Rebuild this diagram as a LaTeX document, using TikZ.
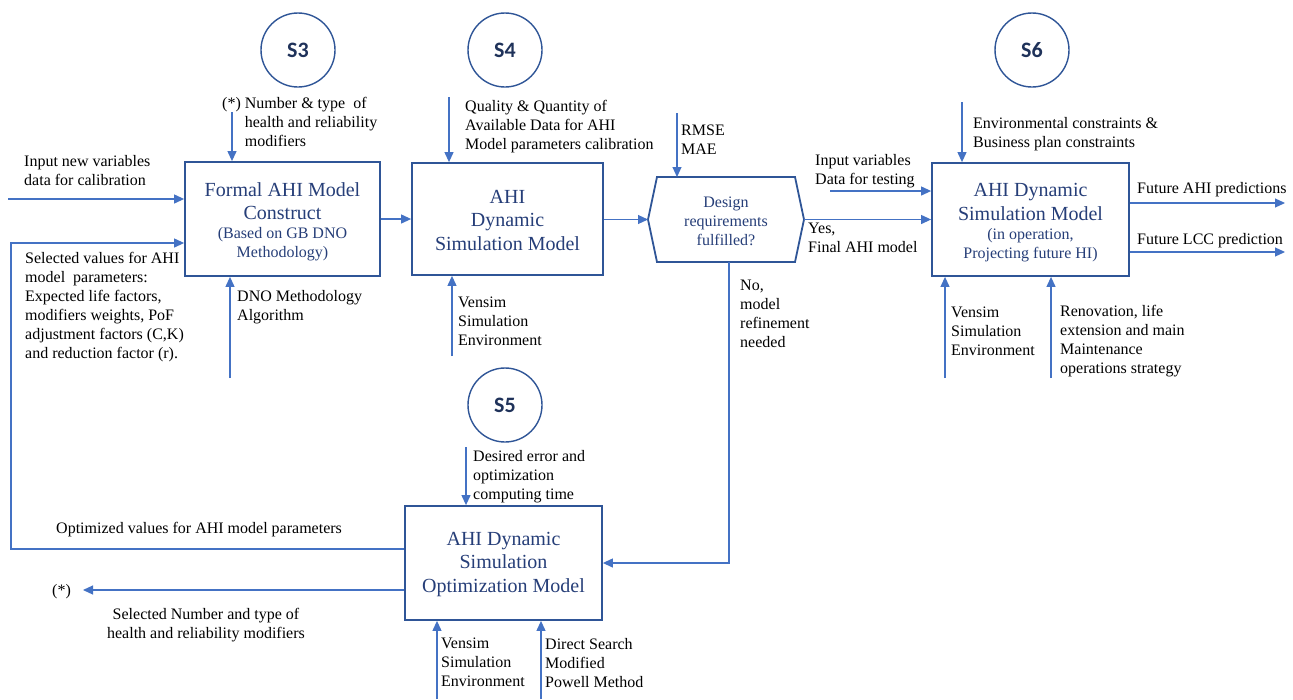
\documentclass[tikz,border=0pt]{standalone}
\usepackage{fontspec}
\setmainfont{Liberation Serif}
\newfontfamily\slabel{Carlito}
\usetikzlibrary{arrows.meta,calc}
\definecolor{boxblue}{RGB}{47,85,151}
\definecolor{arrblue}{RGB}{68,114,196}
\definecolor{titleblue}{RGB}{38,62,120}
\definecolor{sblue}{RGB}{31,50,90}
\begin{document}
\begin{tikzpicture}[x=1pt,y=-1pt,
  box/.style={draw=boxblue, line width=1.8pt, fill=white, inner sep=0pt},
  arr/.style={draw=arrblue, line width=1.1pt, -{Triangle[length=10pt,width=9pt]}},
  ln/.style={draw=arrblue, line width=1.1pt},
  lbl/.style={anchor=north west, inner sep=0pt, align=left, font=\fontsize{16}{19}\selectfont, text=black},
  ttl/.style={inner sep=0pt, align=center, text=titleblue, font=\fontsize{20}{23.5}\selectfont},
  sub/.style={inner sep=0pt, align=center, text=titleblue, font=\fontsize{16}{19}\selectfont},
  circ/.style={circle, draw=boxblue, line width=1.4pt, minimum size=74pt, inner sep=0pt, text=sblue, font=\slabel\bfseries\fontsize{22}{22}\selectfont}
]
\fill[white] (0,0) rectangle (1293,699);
\useasboundingbox (0,0) rectangle (1293,699);

% step circles
\node[circ] (s3) at (298,50) {S3};
\node[circ] (s4) at (505,50) {S4};
\node[circ] (s6) at (1032,50) {S6};
\node[circ] (s5) at (505,405) {S5};

% boxes
\node[box, minimum width=195pt, minimum height=114pt] (b1) at (282.5,219) {};
\node[ttl] (b1t) at (282.5,201) {Formal AHI Model\\Construct};
\node[sub] (b1s) at (282.5,244) {(Based on GB DNO\\Methodology)};

\node[box, minimum width=191pt, minimum height=112pt] (b2) at (507.5,219) {};
\node[ttl] (b2t) at (507.5,220) {AHI\\Dynamic\\Simulation Model};

\node[box, minimum width=197pt, minimum height=113pt] (b3) at (1030.5,219.5) {};
\node[ttl] (b3t) at (1030.5,202) {AHI Dynamic\\Simulation Model};
\node[sub] (b3s) at (1030.5,245) {(in operation,\\Projecting future HI)};

\node[box, minimum width=197pt, minimum height=114pt] (b4) at (503.5,563) {};
\node[ttl] (b4t) at (503.5,564) {AHI Dynamic\\Simulation\\Optimization Model};

% decision hexagon
\node[minimum width=156pt, minimum height=85pt, inner sep=0pt, outer sep=0pt] (hx) at (726,219.5) {};
\draw[boxblue, line width=1.8pt, line join=miter] (hx.west) -- ([xshift=9pt]hx.north west) -- ([xshift=-9pt]hx.north east) -- (hx.east) -- ([xshift=-9pt]hx.south east) -- ([xshift=9pt]hx.south west) -- cycle;
\node[sub] (hxt) at (726,221) {Design\\requirements\\fulfilled?};

% connectors
\coordinate (a3) at (232,112);
\draw[arr] (a3) -- (a3 |- b1.north);
\coordinate (in1) at (8,199);
\draw[arr] (in1) -- (in1 -| b1.west);
\coordinate (lp1) at (11,243);
\coordinate (lp2) at (11,549);
\draw[arr] (b4.west |- lp2) -- (lp2) -- (lp1) -- (lp1 -| b1.west);
\coordinate (dno) at (230,378);
\draw[arr] (dno) -- (dno |- b1.south);
\draw[arr] (b1.east) -- (b1.east -| b2.west);
\coordinate (a4) at (449,97);
\draw[arr] (a4) -- (a4 |- b2.north);
\coordinate (v2) at (452,356);
\draw[arr] (v2) -- (v2 |- b2.south);
\draw[arr] (b2.east |- hx.west) -- (hx.west);
\coordinate (rm) at (677,113);
\draw[arr] (rm) -- (rm |- hx.north);
\draw[arr] (hx.east) -- (hx.east -| b3.west);
\coordinate (iv) at (830,191);
\draw[arr] (iv) -- (iv -| b3.west);
\coordinate (no) at (729,563);
\draw[arr] (no |- hx.south) -- (no) -- (no -| b4.east);
\coordinate (a6) at (962,102);
\draw[arr] (a6) -- (a6 |- b3.north);
\coordinate (fa) at (1285,203);
\draw[arr] (b3.east |- fa) -- (fa);
\coordinate (fl) at (1285,252);
\draw[arr] (b3.east |- fl) -- (fl);
\coordinate (v3) at (945,378);
\draw[arr] (v3) -- (v3 |- b3.south);
\coordinate (rn) at (1051,378);
\draw[arr] (rn) -- (rn |- b3.south);
\coordinate (a5) at (466,447);
\draw[arr] (a5) -- (a5 |- b4.north);
\coordinate (st) at (83,590);
\draw[arr] (b4.west |- st) -- (st);
\coordinate (v4) at (437,699);
\draw[arr] (v4) -- (v4 |- b4.south);
\coordinate (ds) at (541,699);
\draw[arr] (ds) -- (ds |- b4.south);

% labels
\node[lbl] (l1) at (222,97) {(*) Number \& type~~of\\\hphantom{(*) }health and reliability\\\hphantom{(*) }modifiers};
\node[lbl] (l2) at (24,155) {Input new variables\\data for calibration};
\node[lbl] (l3) at (25,252) {Selected values for AHI\\model~~parameters:\\Expected life factors,\\modifiers weights, PoF\\adjustment factors (C,K)\\and reduction factor (r).};
\node[lbl] (l4) at (237,290) {DNO Methodology\\Algorithm};
\node[lbl] (l5) at (465,100) {Quality \& Quantity of\\Available Data for AHI\\Model parameters calibration};
\node[lbl] (l6) at (681,125) {RMSE\\MAE};
\node[lbl] (l7) at (458,297) {Vensim\\Simulation\\Environment};
\node[lbl] (l8) at (740,280) {No,\\model\\refinement\\needed};
\node[lbl] (l9) at (808,223) {Yes,\\Final AHI model};
\node[lbl] (l10) at (815,154) {Input variables\\Data for testing};
\node[lbl] (l11) at (973,117) {Environmental constraints \&\\Business plan constraints};
\node[lbl] (l12) at (1137,182) {Future AHI predictions};
\node[lbl] (l13) at (1137,233) {Future LCC prediction};
\node[lbl] (l14) at (951,307) {Vensim\\Simulation\\Environment};
\node[lbl] (l15) at (1060,305) {Renovation, life\\extension and main\\Maintenance\\operations strategy};
\node[lbl] (l16) at (473,450) {Desired error and\\optimization\\computing time};
\node[lbl] (l17) at (56,522) {Optimized values for AHI model parameters};
\node[lbl] (l18) at (52,584) {(*)};
\node[lbl, anchor=north, align=center] (l19) at (206,608) {Selected Number and type of\\health and reliability modifiers};
\node[lbl] (l20) at (441,638) {Vensim\\Simulation\\Environment};
\node[lbl] (l21) at (545,638) {Direct Search\\Modified\\Powell Method};
\end{tikzpicture}
\end{document}
